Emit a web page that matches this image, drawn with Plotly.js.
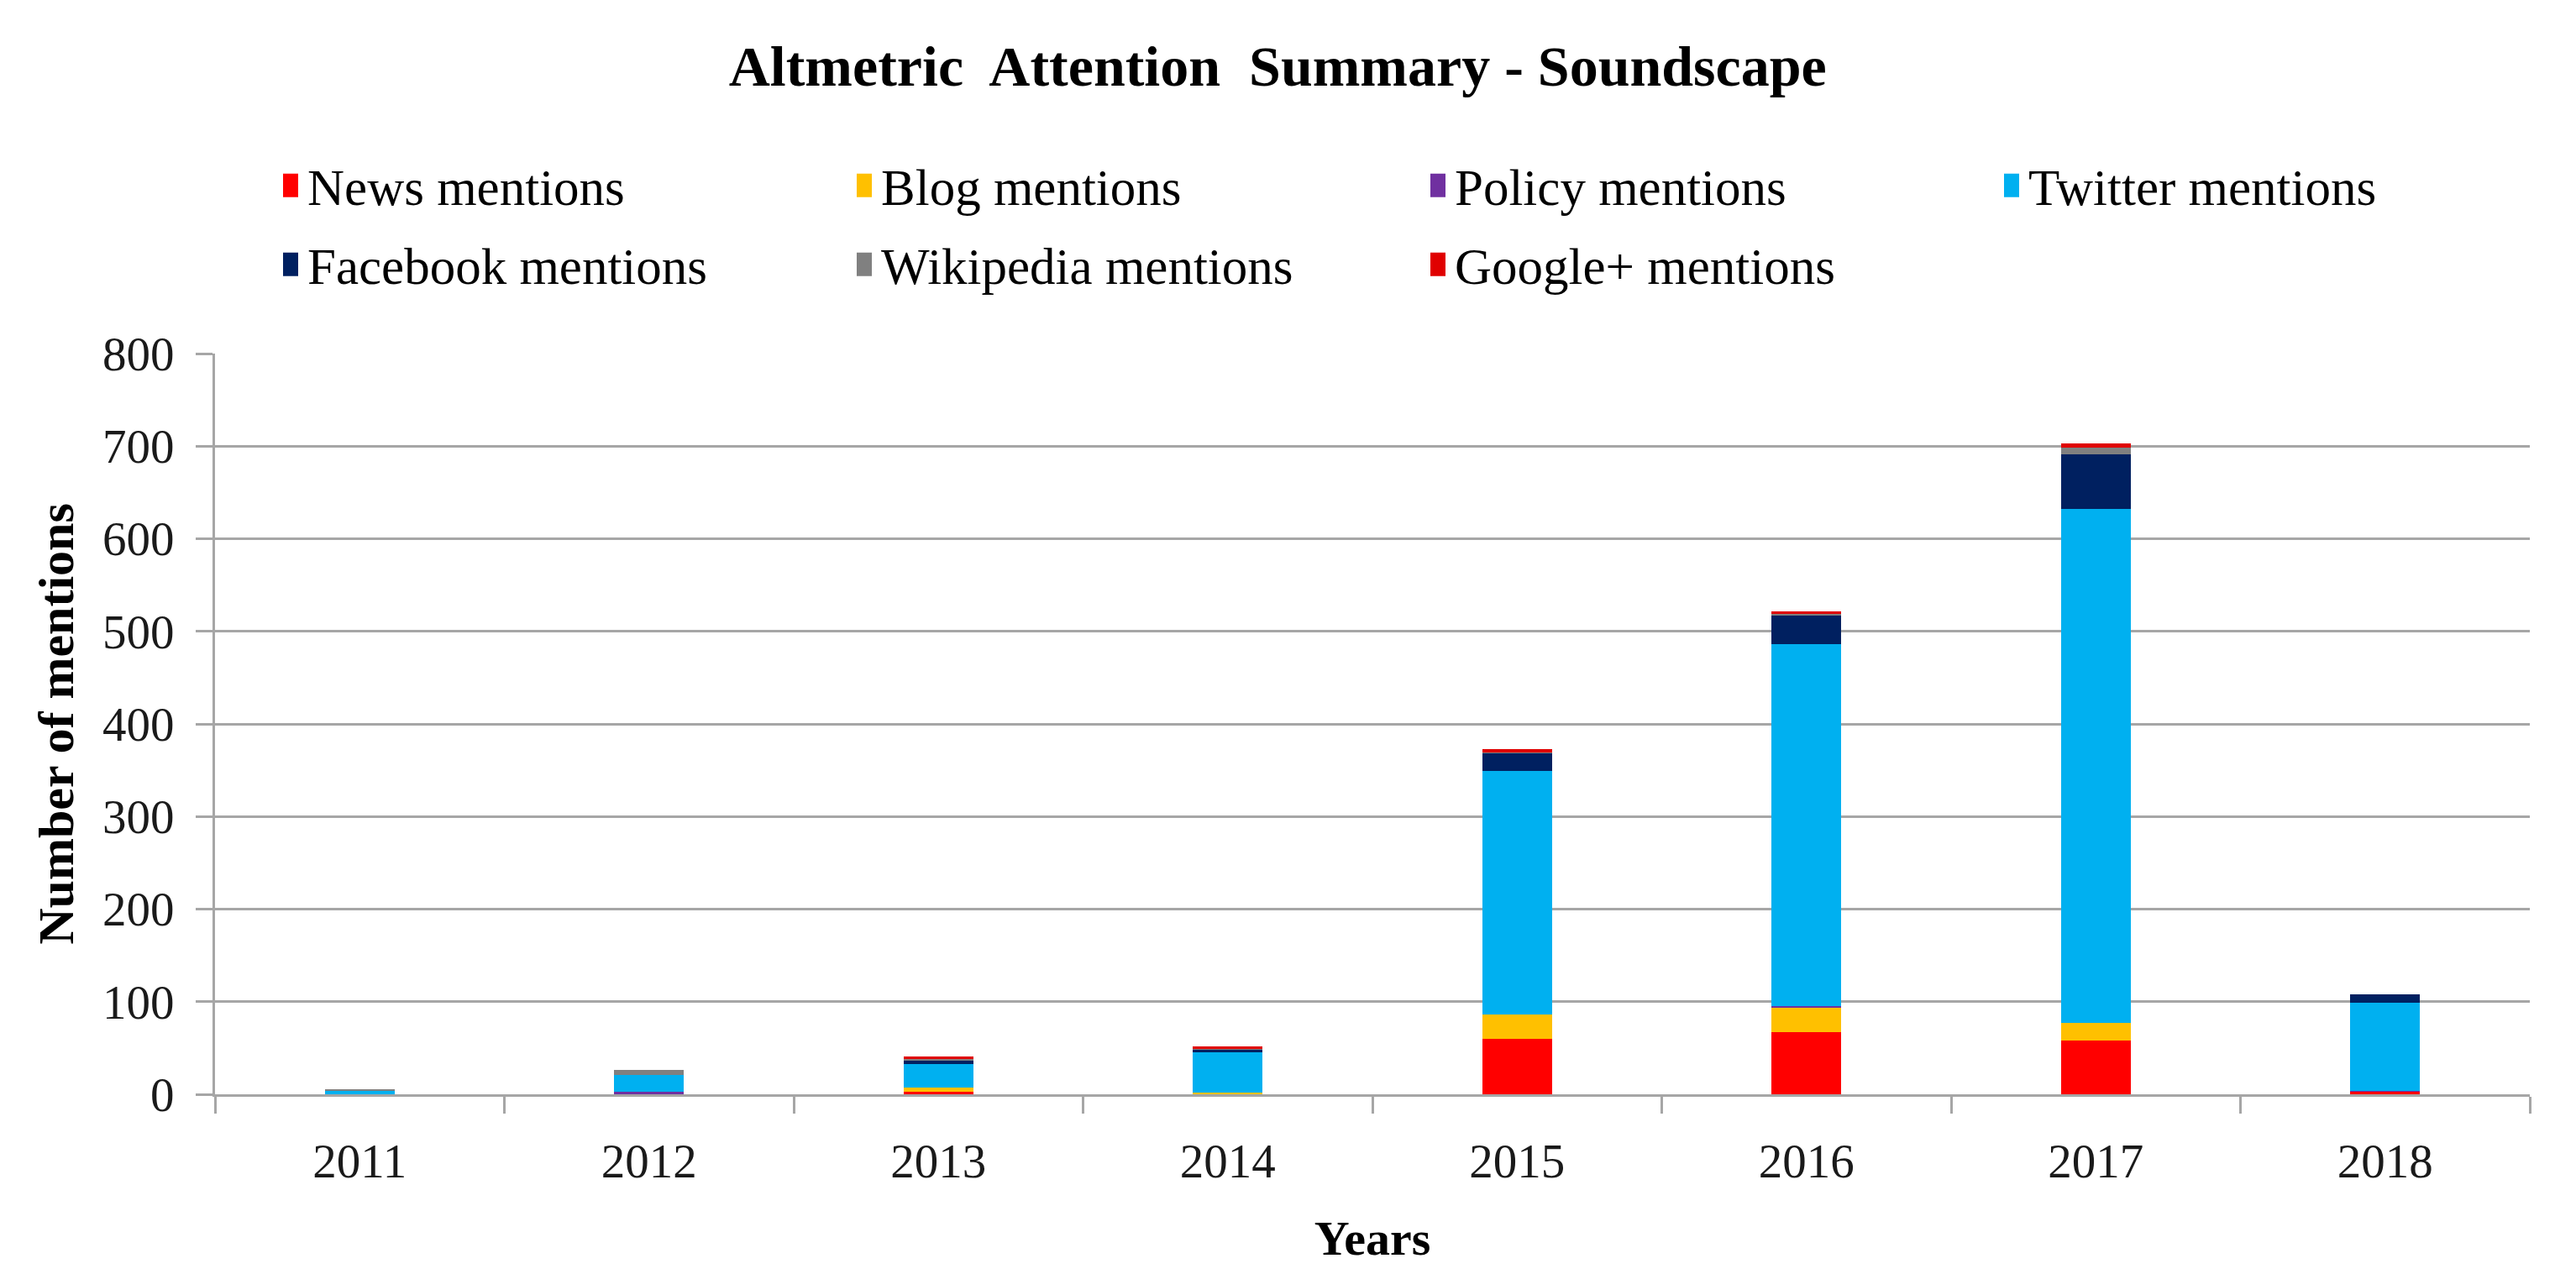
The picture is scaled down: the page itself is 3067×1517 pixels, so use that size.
<!DOCTYPE html>
<html>
<head>
<meta charset="utf-8">
<script src="https://cdn.plot.ly/plotly-3.0.1.min.js"></script>
<style>
html,body{margin:0;padding:0;background:#fff;}
#chart{width:3067px;height:1517px;}
</style>
</head>
<body>
<div id="chart"></div>
<script>
const years = ['2011','2012','2013','2014','2015','2016','2017','2018'];
const newsMentions      = [0, 0, 3, 0, 60, 67, 58, 3];
const blogMentions      = [0, 0, 4, 2, 26, 26, 19, 0];
const policyMentions    = [0, 3, 0, 0, 0, 2, 0, 1];
const twitterMentions   = [4, 18, 26, 43, 263, 391, 555, 95];
const facebookMentions  = [0, 0, 3, 3, 19, 31, 59, 9];
const wikipediaMentions = [1, 5, 2, 1, 1, 2, 7, 0];
const googleMentions    = [0, 0, 3, 3, 4, 3, 5, 0];
const yTicks = [0, 100, 200, 300, 400, 500, 600, 700, 800];

const FONT = 'Liberation Serif, Times New Roman, serif';

function bar(name, values, color, legend) {
  return {
    type: 'bar', name: name, x: years, y: values,
    marker: {color: color, line: {width: 0}},
    legend: legend, hoverinfo: 'x+y+name'
  };
}

const data = [
  bar('News mentions', newsMentions, '#FF0000', 'legend'),
  bar('Blog mentions', blogMentions, '#FFC000', 'legend'),
  bar('Policy mentions', policyMentions, '#7030A0', 'legend'),
  bar('Twitter mentions', twitterMentions, '#00B0F0', 'legend'),
  bar('Facebook mentions', facebookMentions, '#002060', 'legend2'),
  bar('Wikipedia mentions', wikipediaMentions, '#808080', 'legend2'),
  bar('Google+ mentions', googleMentions, '#E00000', 'legend2')
];

const legendBase = {
  orientation: 'h',
  xref: 'container', yref: 'container',
  xanchor: 'left', yanchor: 'middle',
  entrywidth: 638, entrywidthmode: 'pixels',
  font: {family: FONT, size: 61, color: '#000'},
  traceorder: 'normal',
  bgcolor: 'rgba(0,0,0,0)', borderwidth: 0
};

const layout = {
  width: 3067, height: 1517,
  paper_bgcolor: '#ffffff', plot_bgcolor: '#ffffff',
  margin: {l: 256, r: 55, t: 421, b: 214},
  barmode: 'stack',
  bargap: 0.76,
  showlegend: true,
  title: {
    text: '<b>Altmetric  Attention  Summary - Soundscape</b>',
    font: {family: FONT, size: 68, color: '#000'},
    x: 0.496, xanchor: 'center', xref: 'container',
    y: 1 - 78/1517, yanchor: 'middle', yref: 'container'
  },
  legend: Object.assign({}, legendBase, {x: 326/3067, y: 1 - 221/1517}),
  legend2: Object.assign({}, legendBase, {x: 326/3067, y: 1 - 315/1517}),
  xaxis: {
    type: 'category',
    tickson: 'boundaries',
    ticks: 'outside', ticklen: 20, tickwidth: 3, tickcolor: '#a6a6a6',
    showline: true, linecolor: '#a6a6a6', linewidth: 3,
    showgrid: false, zeroline: false,
    tickfont: {family: FONT, size: 57, color: '#1a1a1a'},
    ticklabelstandoff: 28,
    title: {text: '<b>Years</b>', font: {family: FONT, size: 58, color: '#000'}, standoff: 40}
  },
  yaxis: {
    range: [0, 800],
    tickvals: yTicks,
    ticktext: yTicks.map(String),
    ticks: 'outside', ticklen: 20, tickwidth: 3, tickcolor: '#a6a6a6',
    showline: true, linecolor: '#a6a6a6', linewidth: 3,
    showgrid: true, gridcolor: '#a6a6a6', gridwidth: 3,
    zeroline: false,
    ticklabelstandoff: 14,
    tickfont: {family: FONT, size: 57, color: '#1a1a1a'},
    title: {text: '<b>Number of mentions</b>', font: {family: FONT, size: 60, color: '#000'}, standoff: 16}
  }
};

Plotly.newPlot('chart', data, layout, {staticPlot: true, displayModeBar: false}).then(function () {
  document.querySelectorAll('.legendpoints path').forEach(function (p) {
    p.setAttribute('d', 'M9,14H-9V-14H9Z');
  });
});
</script>
</body>
</html>
